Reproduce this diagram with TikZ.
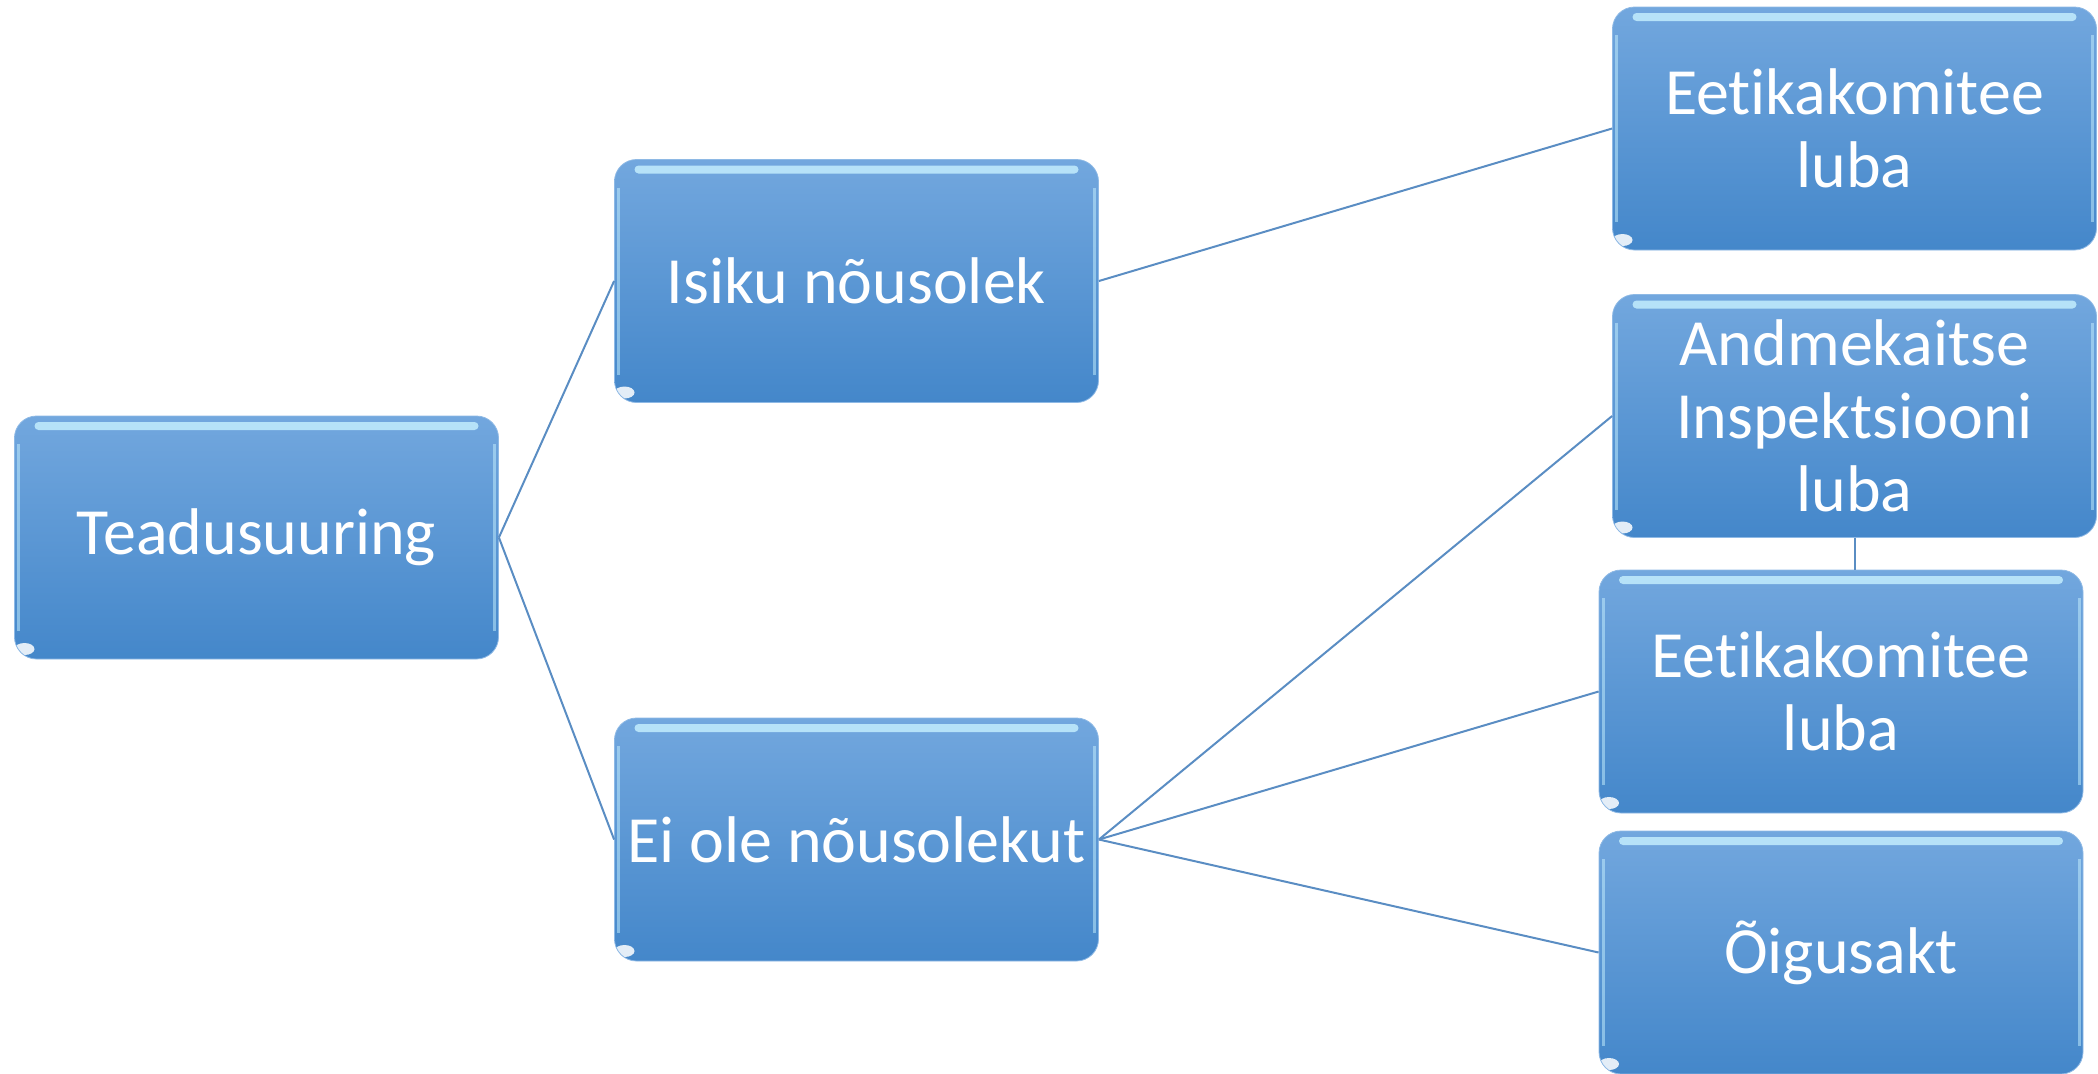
\documentclass[tikz,border=0pt]{standalone}
\usepackage{fontspec}
\setmainfont[Ligatures=NoCommon,Contextuals=NoAlternate]{Carlito}
\definecolor{boxtop}{HTML}{72A7DE}
\definecolor{boxbot}{HTML}{4487CA}
\definecolor{glosscol}{HTML}{C8F2FF}
\definecolor{linecol}{HTML}{5A8DC3}
\tikzset{
  boks/.style={rectangle, rounded corners=11pt, minimum width=242pt,
    minimum height=121.5pt, inner sep=0pt, align=center, text=white,
    top color=boxtop, bottom color=boxbot, draw=boxtop!80!white, line width=0.4pt,
    font=\fontsize{33pt}{36.5pt}\selectfont,
    path picture={
      \fill[glosscol, opacity=.8, rounded corners=2pt]
        ([xshift=10pt,yshift=-3pt]path picture bounding box.north west)
        rectangle ([xshift=-10pt,yshift=-7pt]path picture bounding box.north east);
      \draw[glosscol, opacity=.5, line width=1.5pt]
        ([xshift=2pt,yshift=-14pt]path picture bounding box.north west)
        -- ([xshift=2pt,yshift=14pt]path picture bounding box.south west);
      \draw[glosscol, opacity=.5, line width=1.5pt]
        ([xshift=-2pt,yshift=-14pt]path picture bounding box.north east)
        -- ([xshift=-2pt,yshift=14pt]path picture bounding box.south east);
      \fill[white, opacity=.85, rotate=-40]
        ([xshift=5pt,yshift=5pt]path picture bounding box.south west)
        ellipse (5pt and 3pt);
    }},
  joon/.style={draw=linecol, line width=1pt}
}
\begin{document}
\begin{tikzpicture}[x=0.5pt, y=-0.5pt]
  \useasboundingbox (0,0) rectangle (2098,1073);
  % vasak
  \node[boks] (tea) at (256.5,537.5) {Teadusuuring};
  % keskmine tase
  \node[boks] (isik) at (856.5,281) {Isiku nõusolek};
  \node[boks] (eiole) at (856.5,839.5) {Ei ole nõusolekut};
  % parem tase
  \node[boks] (eet1) at (1854.5,128.5) {Eetikakomitee\\luba};
  \node[boks] (andm) at (1854.5,416) {Andmekaitse\\Inspektsiooni\\luba};
  \node[boks] (eet2) at (1841,691.5) {Eetikakomitee\\luba};
  \node[boks] (oig) at (1841,952.5) {Õigusakt};
  % jooned
  \draw[joon] (tea.east) -- (isik.west);
  \draw[joon] (tea.east) -- (eiole.west);
  \draw[joon] (isik.east) -- (eet1.west);
  \draw[joon] (eiole.east) -- (andm.west);
  \draw[joon] (eiole.east) -- (eet2.west);
  \draw[joon] (eiole.east) -- (oig.west);
  \draw[joon] (andm.south) -- (andm.south |- eet2.north);
\end{tikzpicture}
\end{document}
